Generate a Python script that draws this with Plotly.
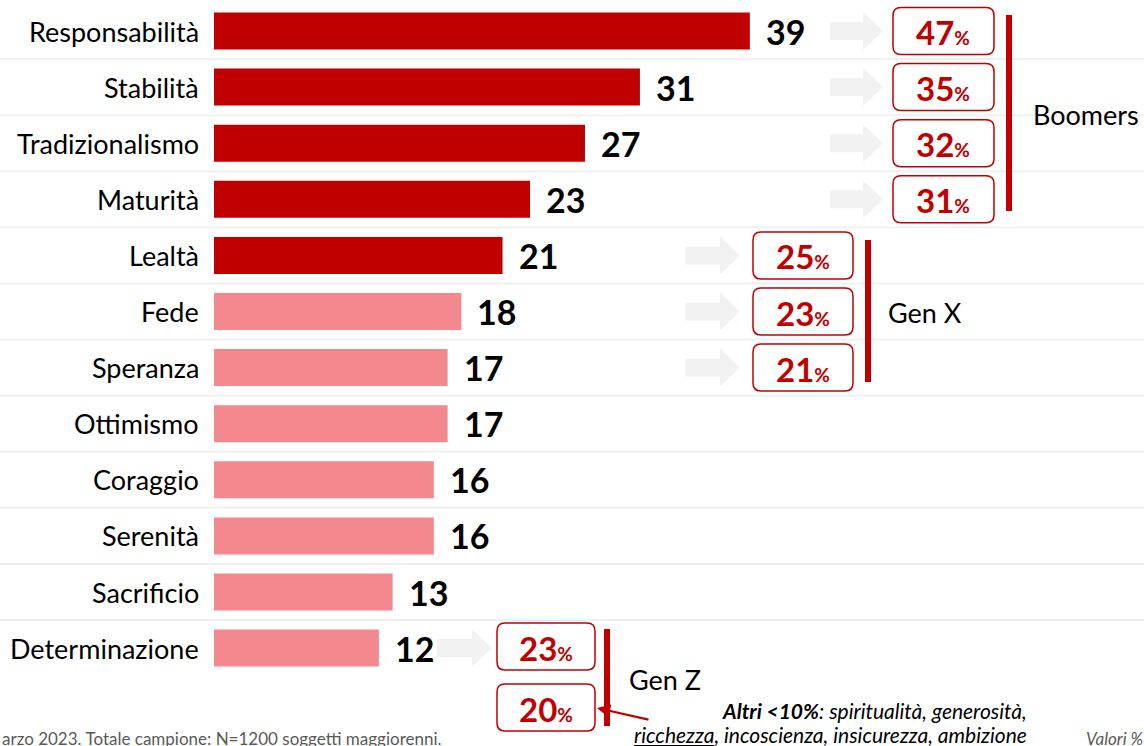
import plotly.graph_objects as go

# ---------------- data ----------------
categories = ["Responsabilità", "Stabilità", "Tradizionalismo", "Maturità", "Lealtà",
              "Fede", "Speranza", "Ottimismo", "Coraggio", "Serenità", "Sacrificio",
              "Determinazione"]
values = [39, 31, 27, 23, 21, 18, 17, 17, 16, 16, 13, 12]
highlight = [True, True, True, True, True, False, False, False, False, False, False, False]

boomers_pct = [47, 35, 32, 31]
genx_pct = [25, 23, 21]
genz_pct = [23, 20]
group_labels = ["Boomers", "Gen X", "Gen Z"]

note_line1 = "<b><i>Altri <10%</i></b><i>: spiritualità, generosità,</i>"
note_line2 = "<i><u>ricchezza</u>, incoscienza, insicurezza, ambizione</i>"
source_text = "arzo 2023. Totale campione: N=1200 soggetti maggiorenni."
units_text = "Valori %"

# ---------------- style / geometry ----------------
W, H = 1144, 746
DARK = "#C00000"
PINK = "#F4888F"
GRID = "#F0F0F0"
ARROW = "#F2F2F2"
FONT = "Lato"

X0_PX = 214.0          # pixel where value 0 sits
PX_PER_UNIT = 13.74
ROW0_PX = 31.0
ROW_STEP = 56.1

x_range = [-X0_PX / PX_PER_UNIT, (W - X0_PX) / PX_PER_UNIT]
y_range = [(H - ROW0_PX) / ROW_STEP, -ROW0_PX / ROW_STEP]


def px(x):
    return x / W


def py(y):
    return 1 - y / H


def row_y(i):
    return ROW0_PX + ROW_STEP * i


fig = go.Figure()
fig.add_trace(go.Bar(
    x=values, y=categories, orientation="h",
    marker=dict(color=[DARK if h else PINK for h in highlight], line=dict(width=0)),
    width=0.66, hoverinfo="skip"))

shapes = []
annotations = []

# separators
for i in range(len(categories) - 1):
    yy = row_y(i) + ROW_STEP / 2
    shapes.append(dict(type="line", xref="paper", yref="paper", x0=0, x1=1,
                       y0=py(yy), y1=py(yy), line=dict(color=GRID, width=2), layer="below"))

# category labels and value labels
for i, (c, v) in enumerate(zip(categories, values)):
    annotations.append(dict(text=c, xref="paper", yref="y", x=px(201), y=c,
                            xanchor="right", yanchor="middle", showarrow=False,
                            font=dict(family=FONT, size=27, color="#000000")))
    annotations.append(dict(text=f"<b>{v}</b>", xref="x", yref="y", x=v, y=c,
                            xanchor="left", yanchor="middle", xshift=14, showarrow=False,
                            font=dict(family=FONT, size=34, color="#000000")))


def gray_arrow(x_start, x_end, yc):
    head = 20
    sh = 9
    hh = 19
    pts = [(x_start, yc - sh), (x_end - head, yc - sh), (x_end - head, yc - hh), (x_end, yc),
           (x_end - head, yc + hh), (x_end - head, yc + sh), (x_start, yc + sh)]
    path = "M " + " L ".join(f"{px(a):.5f},{py(b):.5f}" for a, b in pts) + " Z"
    shapes.append(dict(type="path", xref="paper", yref="paper", path=path,
                       fillcolor=ARROW, line=dict(width=0), layer="below"))


def rbox(x0, x1, yc, pct, h=47, r=8):
    y0, y1 = yc - h / 2, yc + h / 2
    P = lambda a, b: f"{px(a):.5f},{py(b):.5f}"
    path = (f"M {P(x0 + r, y0)} L {P(x1 - r, y0)} Q {P(x1, y0)} {P(x1, y0 + r)} "
            f"L {P(x1, y1 - r)} Q {P(x1, y1)} {P(x1 - r, y1)} "
            f"L {P(x0 + r, y1)} Q {P(x0, y1)} {P(x0, y1 - r)} "
            f"L {P(x0, y0 + r)} Q {P(x0, y0)} {P(x0 + r, y0)} Z")
    shapes.append(dict(type="path", xref="paper", yref="paper", path=path,
                       fillcolor="white", line=dict(color=DARK, width=1.5)))
    annotations.append(dict(text=f"<b>{pct}<span style='font-size:19px'>%</span></b>",
                            xref="paper", yref="paper", x=px((x0 + x1) / 2), y=py(yc + 1),
                            xanchor="center", yanchor="middle", showarrow=False,
                            font=dict(family=FONT, size=33, color=DARK)))


def bracket(x, y0, y1):
    shapes.append(dict(type="line", xref="paper", yref="paper", x0=px(x), x1=px(x),
                       y0=py(y0), y1=py(y1), line=dict(color=DARK, width=6)))


def glabel(text, x, y):
    annotations.append(dict(text=text, xref="paper", yref="paper", x=px(x), y=py(y),
                            xanchor="left", yanchor="middle", showarrow=False,
                            font=dict(family=FONT, size=27, color="#000000")))


# Boomers
for k, p in enumerate(boomers_pct):
    yc = row_y(k)
    gray_arrow(830, 883, yc)
    rbox(893, 994, yc, p)
bracket(1009, 15, 211)
glabel(group_labels[0], 1031, 114)

# Gen X
for k, p in enumerate(genx_pct):
    yc = row_y(4 + k)
    gray_arrow(685, 740, yc)
    rbox(753, 853, yc, p)
bracket(868, 240, 382)
glabel(group_labels[1], 886, 312)

# Gen Z
yz = row_y(11)
gray_arrow(437, 492, yz)
rbox(497, 595, yz - 1.5, genz_pct[0])
rbox(497, 595, yz + 59.5, genz_pct[1])
bracket(607, 629, 726)
glabel(group_labels[2], 627, 679)

# red pointer arrow
annotations.append(dict(text="", xref="paper", yref="paper", x=px(597), y=py(708),
                        ax=53, ay=12, axref="pixel", ayref="pixel", showarrow=True,
                        arrowhead=2, arrowsize=1.2, arrowwidth=2.2, arrowcolor=DARK))

# notes
annotations.append(dict(text=note_line1, xref="paper", yref="paper", x=px(1029), y=py(710),
                        xanchor="right", yanchor="middle", showarrow=False,
                        font=dict(family=FONT, size=21, color="#000000")))
annotations.append(dict(text=note_line2, xref="paper", yref="paper", x=px(1029), y=py(734),
                        xanchor="right", yanchor="middle", showarrow=False,
                        font=dict(family=FONT, size=21, color="#000000")))
annotations.append(dict(text=source_text, xref="paper", yref="paper", x=px(0), y=py(738),
                        xanchor="left", yanchor="middle", showarrow=False,
                        font=dict(family=FONT, size=17, color="#595959")))
annotations.append(dict(text=f"<i>{units_text}</i>", xref="paper", yref="paper", x=px(1084), y=py(738),
                        xanchor="left", yanchor="middle", showarrow=False,
                        font=dict(family=FONT, size=17, color="#595959")))

fig.update_layout(
    width=W, height=H, margin=dict(l=0, r=0, t=0, b=0),
    paper_bgcolor="white", plot_bgcolor="white", showlegend=False,
    xaxis=dict(range=x_range, visible=False, fixedrange=True),
    yaxis=dict(range=y_range, visible=False, fixedrange=True, type="category",
               categoryorder="array", categoryarray=categories),
    shapes=shapes, annotations=annotations,
)

fig.write_html("out.html", config={"displayModeBar": False},
               post_script="document.body.style.margin='0';document.body.style.overflow='hidden';")
